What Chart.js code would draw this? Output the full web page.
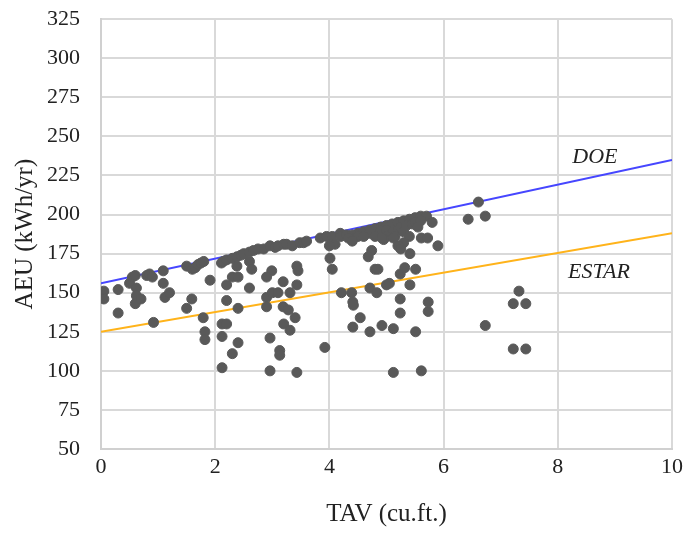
<!DOCTYPE html>
<html>
<head>
<meta charset="utf-8">
<script src="https://cdn.jsdelivr.net/npm/chart.js@4"></script>
<style>
  html, body { margin: 0; padding: 0; background: #fff; overflow: hidden; }
  #wrap { width: 688px; height: 548px; margin-top: -15px; }
</style>
</head>
<body>
<div id="wrap"><canvas id="myChart"></canvas></div>
<script>
// scatter values
var tav = [
  0.05, 0.05, 0.3, 0.3, 0.5, 0.55, 0.6, 0.62, 0.62, 0.6, 0.7, 0.8, 0.85, 0.9, 0.92,
  1.09, 1.09, 1.12, 1.2, 1.5, 1.6, 1.65, 1.7, 1.75, 1.8, 1.59, 1.5, 1.91, 1.79, 1.82, 1.82,
  2.11, 2.2, 2.12, 2.12, 2.12, 2.2, 2.14, 2.2, 2.3, 2.38, 2.45, 2.5, 2.6, 2.67, 2.75, 2.85,
  2.96, 3.05, 3.1, 3.2, 3.25, 3.35, 3.48, 3.55, 3.6, 3.84, 3.95, 4.05, 4.19,
  2.38, 2.6, 2.64, 2.3, 2.4, 2.6, 2.99, 2.9, 3.43, 3.45, 3.43, 3.19, 3.31, 2.9, 3.0, 3.1,
  2.9, 3.19, 3.28, 3.4, 3.2, 3.31, 2.2, 2.4, 2.4, 2.3, 2.96, 3.13, 3.13, 2.96, 3.43,
  4.01, 4.05, 4.1, 4.0, 3.92, 4.21,
  4.2, 4.3, 4.4, 4.5, 4.6, 4.7, 4.8, 4.9, 5.0, 5.1, 5.2, 5.3, 5.4, 5.5, 5.6, 5.7,
  4.33, 4.5, 4.7, 4.9, 5.0, 5.1, 5.2, 5.25, 5.3, 5.35, 5.4, 5.45, 5.5, 5.55, 5.15, 5.0,
  4.95, 4.8, 5.3, 5.2, 5.25, 5.41, 5.12, 5.6, 4.4, 4.6,
  4.92, 4.74, 4.68, 4.8, 4.85, 5.24, 5.32, 5.51, 5.41, 4.71, 4.83, 5.0, 5.05, 4.39, 4.41,
  4.42, 5.24, 5.24, 5.73, 5.73, 4.54, 4.41, 4.71, 4.92, 5.12, 5.51, 5.12, 5.61,
  5.8, 5.61, 5.72, 5.9, 6.43, 6.61, 6.73, 6.73, 7.32, 7.22, 7.44, 7.22, 7.44
];
var aeu = [
  151, 146, 152, 137, 156, 160, 161, 153, 148, 143, 146, 161, 162, 160, 131,
  164, 156, 147, 150, 167, 165, 166, 168, 169, 170, 146, 140, 158, 134, 125, 120,
  169, 155, 130, 122, 102, 130, 170, 171, 172, 173, 174, 175, 176, 177, 178, 178,
  180, 179, 180, 181, 181, 180, 182, 182, 183, 185, 186, 186, 188,
  167, 170, 165, 160, 160, 153, 164, 160, 167, 164, 155, 157, 150, 147, 150, 150,
  141, 141, 139, 134, 130, 126, 145, 140, 118, 111, 121, 113, 110, 100, 99,
  172, 165, 181, 180, 115, 150,
  186, 187, 187, 188, 189, 190, 191, 192, 193, 194, 195, 196, 197, 198, 199, 199,
  185, 186, 188, 190, 190, 188, 190, 192, 189, 193, 186, 194, 195, 192, 186, 186,
  184, 186, 182, 180, 178, 175, 185, 196, 183, 186,
  185, 177, 173, 165, 165, 162, 166, 165, 155, 153, 150, 155, 156, 150, 144,
  142, 146, 137, 144, 138, 134, 128, 125, 129, 127, 125, 99, 100,
  195, 185, 185, 180, 197, 208, 199, 129, 151, 143, 143, 114, 114
];

// standard lines
var lineX = [0, 10];
var doeY = [156, 235];
var estarY = [125, 188];

var yTicks = [50, 75, 100, 125, 150, 175, 200, 225, 250, 275, 300, 325];

var points = tav.map(function (x, i) { return { x: x, y: aeu[i] }; });
var doe = lineX.map(function (x, i) { return { x: x, y: doeY[i] }; });
var estar = lineX.map(function (x, i) { return { x: x, y: estarY[i] }; });

// italic labels for the two lines, placed in data units
var lineLabels = [
  { text: 'DOE', x: 8.65, y: 237 },
  { text: 'ESTAR', x: 8.72, y: 163 }
];

var labelPlugin = {
  id: 'lineLabels',
  afterDatasetsDraw: function (chart) {
    var c = chart.ctx;
    c.save();
    c.font = 'italic 22px "Liberation Serif"';
    c.fillStyle = '#222';
    c.textAlign = 'center';
    c.textBaseline = 'middle';
    lineLabels.forEach(function (l) {
      c.fillText(l.text, chart.scales.x.getPixelForValue(l.x), chart.scales.y.getPixelForValue(l.y));
    });
    c.restore();
  }
};

var ctx = document.getElementById('myChart').getContext('2d');
var chart = new Chart(ctx, {
  type: 'scatter',
  data: {
    datasets: [
      {
        label: 'Models',
        data: points,
        backgroundColor: '#595959',
        borderColor: '#595959',
        pointRadius: 5,
        pointHoverRadius: 5,
        order: 1,
      },
      {
        label: 'DOE',
        type: 'line',
        data: doe,
        borderColor: '#4646ff',
        borderWidth: 2,
        pointRadius: 0,
        fill: false,
        order: 2,
      },
      {
        label: 'ESTAR',
        type: 'line',
        data: estar,
        borderColor: '#ffb31a',
        borderWidth: 2,
        pointRadius: 0,
        fill: false,
        order: 3,
      },
    ],
  },
  plugins: [labelPlugin],
  options: {
    responsive: true,
    maintainAspectRatio: false,
    animation: false,
    layout: { padding: { left: 8, right: 4, top: 0, bottom: 0 } },
    plugins: {
      legend: { display: false },
      tooltip: { enabled: false },
    },
    scales: {
      x: {
        type: 'linear',
        min: 0,
        max: 10,
        afterFit: function (axis) { axis.height = 84; },
        ticks: {
          stepSize: 2,
          color: '#222',
          padding: 5,
          font: { family: 'Liberation Serif', size: 22 },
        },
        grid: { color: '#d9d9d9', lineWidth: 2, drawTicks: false },
        border: { color: '#d0d0d0', width: 2 },
        title: {
          display: true,
          text: 'TAV (cu.ft.)',
          color: '#222',
          font: { family: 'Liberation Serif', size: 25 },
          padding: { top: 18, bottom: 4 },
        },
      },
      y: {
        type: 'linear',
        min: 50,
        max: 325,
        afterBuildTicks: function (axis) {
          axis.ticks = yTicks.map(function (v) { return { value: v }; });
        },
        afterFit: function (axis) { axis.width = 93; },
        ticks: {
          color: '#222',
          padding: 21,
          font: { family: 'Liberation Serif', size: 22 },
        },
        grid: { color: '#d9d9d9', lineWidth: 2, drawTicks: false },
        border: { color: '#d0d0d0', width: 2 },
        title: {
          display: true,
          text: 'AEU (kWh/yr)',
          color: '#222',
          font: { family: 'Liberation Serif', size: 25 },
          padding: { top: 2, bottom: 4 },
        },
      },
    },
  },
});
</script>
</body>
</html>
